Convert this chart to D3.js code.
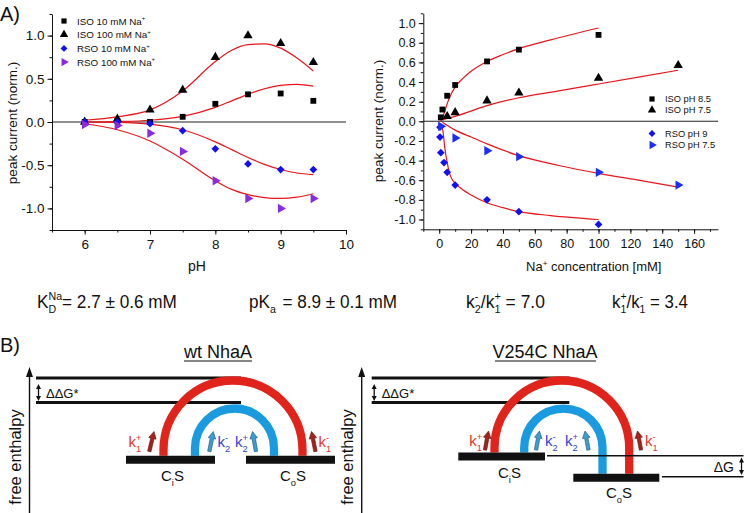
<!DOCTYPE html>
<html><head><meta charset="utf-8">
<script src="https://cdn.jsdelivr.net/npm/d3@7"></script>
<style>
html,body{margin:0;padding:0;background:#fff;}
svg{display:block;font-family:"Liberation Sans",Arial,sans-serif;}
</style></head><body>
<svg id="c" width="745" height="513"></svg>
<script>
// ---------- DATA: panel A left (pH dependence) ----------
const pHValues   = [6, 6.5, 7, 7.5, 8, 8.5, 9, 9.5];
const iso10pH    = [0.0, 0.01, 0.0, 0.06, 0.21, 0.32, 0.33, 0.245];
const iso100pH   = [0.0, 0.035, 0.14, 0.37, 0.75, 1.0, 0.91, 0.69];
const rso10pH    = [0.0, 0.0, -0.02, -0.10, -0.31, -0.485, -0.55, -0.55];
const rso100pH   = [-0.03, -0.04, -0.13, -0.34, -0.68, -0.885, -1.0, -0.885];
const pHFitX     = [6, 6.5, 7, 7.5, 8, 8.25, 8.5, 8.75, 9, 9.25, 9.5];
const fitIso10pH = [0.0, 0.005, 0.02, 0.065, 0.17, 0.245, 0.32, 0.385, 0.425, 0.435, 0.415];
const fitIso100pH= [0.02, 0.06, 0.14, 0.36, 0.70, 0.83, 0.895, 0.905, 0.855, 0.74, 0.59];
const fitRso10pH = [0.0, -0.005, -0.025, -0.09, -0.23, -0.32, -0.41, -0.49, -0.55, -0.59, -0.61];
const fitRso100pH= [-0.02, -0.09, -0.22, -0.43, -0.68, -0.78, -0.84, -0.875, -0.885, -0.87, -0.83];
const pHTicks    = [6, 7, 8, 9, 10];
const pHYTicks   = [-1.0, -0.5, 0.0, 0.5, 1.0];

// ---------- DATA: panel A right (Na+ dependence) ----------
const isoNa85X = [1, 2, 5, 10, 30, 50, 100];
const isoNa85Y = [0.04, 0.12, 0.26, 0.37, 0.61, 0.73, 0.88];
const isoNa75X = [5, 10, 30, 50, 100, 150];
const isoNa75Y = [0.05, 0.09, 0.21, 0.29, 0.44, 0.57];
const rsoNa9X  = [0.5, 0.5, 1, 3, 5, 10, 30, 50, 100];
const rsoNa9Y  = [-0.06, -0.16, -0.32, -0.42, -0.52, -0.65, -0.80, -0.92, -1.05];
const rsoNa75X = [1, 10, 30, 50, 100, 150];
const rsoNa75Y = [-0.05, -0.17, -0.30, -0.36, -0.52, -0.65];
const fitIso85X = [1, 1.5, 3, 5, 7, 10, 15, 20, 30, 40, 50, 70, 100];
const fitIso85Y = [0.0, 0.02, 0.08, 0.18, 0.26, 0.35, 0.44, 0.51, 0.61, 0.68, 0.74, 0.83, 0.95];
const fitIso75X = [3, 10, 30, 50, 75, 100, 125, 150];
const fitIso75Y = [0.02, 0.05, 0.16, 0.24, 0.31, 0.38, 0.45, 0.52];
const fitRso75X = [2, 10, 20, 30, 50, 75, 100, 125, 150];
const fitRso75Y = [-0.01, -0.09, -0.16, -0.23, -0.35, -0.45, -0.53, -0.60, -0.67];
const fitRso9X  = [1.5, 2.5, 3.5, 5, 6.5, 8, 10, 15, 20, 30, 40, 50, 70, 100];
const fitRso9Y  = [-0.03, -0.12, -0.27, -0.42, -0.53, -0.59, -0.63, -0.70, -0.75, -0.83, -0.88, -0.92, -0.96, -1.0];
const naTicks   = [0, 20, 40, 60, 80, 100, 120, 140, 160];
const naYTicks  = [-1.0, -0.8, -0.6, -0.4, -0.2, 0.0, 0.2, 0.4, 0.6, 0.8, 1.0];

const svg = d3.select("#c");
const FONT = '"Liberation Sans",Arial,sans-serif';
const FITRED = "#e8161b";

// ---------- helpers ----------
function sym(g, type, x, y, size, color, rot) {
  g.append("path").attr("d", d3.symbol().type(type).size(size)())
   .attr("transform", `translate(${x},${y})` + (rot ? ` rotate(${rot})` : ""))
   .attr("fill", color);
}
function richText(g, x, y, pieces, size, color, targetW) {
  const grp = g.append("g");
  let cur = 0;
  pieces.forEach(p => {
    if (typeof p === "string") {
      const t = grp.append("text").attr("x", cur).attr("y", 0).attr("font-size", size)
        .attr("fill", color).style("white-space", "pre").text(p);
      cur += t.node().getComputedTextLength();
    } else {
      let w = 0;
      if (p.sup) { const t = grp.append("text").attr("x", cur).attr("y", -size * 0.42)
        .attr("font-size", size * 0.62).attr("fill", color).text(p.sup);
        w = Math.max(w, t.node().getComputedTextLength()); }
      if (p.sub) { const t = grp.append("text").attr("x", cur).attr("y", size * 0.3)
        .attr("font-size", size * 0.62).attr("fill", color).text(p.sub);
        w = Math.max(w, t.node().getComputedTextLength()); }
      cur += w + (p.gap || 0);
    }
  });
  const sx = targetW ? targetW / cur : 1;
  grp.attr("transform", `translate(${x},${y}) scale(${sx},1)`);
  return grp;
}
function axesFor(g, x, y, xMajor, xMinor, yMajor, yMinor, xFmt, yFmt, fs) {
  const [x0] = x.range(), [y0] = y.range();
  g.append("g").attr("transform", `translate(0,${y0})`)
   .call(d3.axisBottom(x).tickValues(xMinor).tickSize(2.5).tickFormat(""))
   .call(a => a.select(".domain").remove());
  g.append("g").attr("transform", `translate(0,${y0})`)
   .call(d3.axisBottom(x).tickValues(xMajor).tickSize(4.5).tickSizeOuter(0).tickPadding(5).tickFormat(xFmt))
   .call(a => a.selectAll("text").attr("font-size", fs).attr("font-family", FONT).attr("fill", "#111"));
  g.append("g").attr("transform", `translate(${x0},0)`)
   .call(d3.axisLeft(y).tickValues(yMinor).tickSize(2.5).tickFormat(""))
   .call(a => a.select(".domain").remove());
  g.append("g").attr("transform", `translate(${x0},0)`)
   .call(d3.axisLeft(y).tickValues(yMajor).tickSize(4.5).tickSizeOuter(0).tickPadding(3).tickFormat(yFmt))
   .call(a => a.selectAll("text").attr("font-size", fs).attr("font-family", FONT).attr("fill", "#111"));
  g.selectAll(".domain, .tick line").attr("stroke", "#111").attr("stroke-width", 1);
}
const range = (a, b, s) => d3.range(Math.round((b - a) / s) + 1).map(i => +(a + i * s).toFixed(4));

// ---------- Panel A left ----------
const gL = svg.append("g");
const xL = d3.scaleLinear([5.5, 10], [52, 346]);
const yL = d3.scaleLinear([-1.25, 1.25], [230, 14]);
axesFor(gL, xL, yL, pHTicks, range(5.5, 10, 0.5), pHYTicks, range(-1.25, 1.25, 0.25),
  d => d, d => d.toFixed(1), 13.5);
gL.append("line").attr("x1", xL(5.5)).attr("x2", xL(10)).attr("y1", yL(0)).attr("y2", yL(0))
  .attr("stroke", "#222").attr("stroke-width", 1.1);
const lineL = d3.line().x(d => xL(d[0])).y(d => yL(d[1])).curve(d3.curveMonotoneX);
[fitIso10pH, fitIso100pH, fitRso10pH, fitRso100pH].forEach(arr => {
  gL.append("path").attr("d", lineL(pHFitX.map((v, i) => [v, arr[i]])))
    .attr("fill", "none").attr("stroke", FITRED).attr("stroke-width", 1.2);
});
const leftSeries = [
  {vals: iso10pH, type: d3.symbolSquare, size: 34, color: "#000", rot: 0, label: "ISO 10 mM Na"},
  {vals: iso100pH, type: d3.symbolTriangle, size: 38, color: "#000", rot: 0, label: "ISO 100 mM Na"},
  {vals: rso10pH, type: d3.symbolSquare, size: 30, color: "#1010f0", rot: 45, label: "RSO 10 mM Na"},
  {vals: rso100pH, type: d3.symbolTriangle, size: 38, color: "#8a2be2", rot: 90, label: "RSO 100 mM Na"}
];
leftSeries.forEach((s, k) => {
  s.vals.forEach((v, i) => sym(gL, s.type, xL(pHValues[i]), yL(v), s.size, s.color, s.rot));
  const ly = 21 + k * 13.7;
  sym(gL, s.type, 64, ly, s.size * 0.8, s.color, s.rot);
  richText(gL, 77, ly + 3.5, [s.label, {sup: "+"}], 9.8, "#111");
});
gL.append("text").attr("x", 197).attr("y", 271).attr("text-anchor", "middle")
  .attr("font-size", 14).attr("fill", "#111").text("pH");
gL.append("text").attr("transform", "translate(17,123) rotate(-90)").attr("text-anchor", "middle")
  .attr("font-size", 13.5).attr("fill", "#111").text("peak current (norm.)");

// ---------- Panel A right ----------
const gR = svg.append("g");
const xR = d3.scaleLinear([-10, 175], [423.3, 718]);
const yR = d3.scaleLinear([-1.1, 1.1], [229.3, 13.3]);
axesFor(gR, xR, yR, naTicks, range(-10, 170, 10), naYTicks, range(-1.1, 1.1, 0.1),
  d => d, d => d.toFixed(1), 12.5);
gR.append("line").attr("x1", xR(-10)).attr("x2", xR(175)).attr("y1", yR(0)).attr("y2", yR(0))
  .attr("stroke", "#222").attr("stroke-width", 1.1);
const lineR = d3.line().x(d => xR(d[0])).y(d => yR(d[1])).curve(d3.curveMonotoneX);
[[fitIso85X, fitIso85Y], [fitIso75X, fitIso75Y], [fitRso75X, fitRso75Y], [fitRso9X, fitRso9Y]].forEach(([xs, ys]) => {
  gR.append("path").attr("d", lineR(xs.map((v, i) => [v, ys[i]])))
    .attr("fill", "none").attr("stroke", FITRED).attr("stroke-width", 1.2);
});
const rightSeries = [
  {xs: isoNa85X, ys: isoNa85Y, type: d3.symbolSquare, size: 34, color: "#000", rot: 0, label: "ISO pH 8.5", ly: 99},
  {xs: isoNa75X, ys: isoNa75Y, type: d3.symbolTriangle, size: 38, color: "#000", rot: 0, label: "ISO pH 7.5", ly: 110},
  {xs: rsoNa9X, ys: rsoNa9Y, type: d3.symbolSquare, size: 30, color: "#1010f0", rot: 45, label: "RSO pH 9", ly: 133.5},
  {xs: rsoNa75X, ys: rsoNa75Y, type: d3.symbolTriangle, size: 38, color: "#1a2ef5", rot: 90, label: "RSO pH 7.5", ly: 145}
];
rightSeries.forEach(s => {
  s.xs.forEach((v, i) => sym(gR, s.type, xR(v), yR(s.ys[i]), s.size, s.color, s.rot));
  sym(gR, s.type, 652, s.ly, s.size * 0.8, s.color, s.rot);
  gR.append("text").attr("x", 665).attr("y", s.ly + 3.3).attr("font-size", 9.3).attr("fill", "#111").text(s.label);
});
richText(gR, 526, 271, ["Na", {sup: "+"}, " concentration [mM]"], 13, "#111");
gR.append("text").attr("transform", "translate(383,121) rotate(-90)").attr("text-anchor", "middle")
  .attr("font-size", 13.5).attr("fill", "#111").text("peak current (norm.)");

// panel letters
svg.append("text").attr("x", 0).attr("y", 21).attr("font-size", 20).attr("fill", "#111").text("A)");
svg.append("text").attr("x", 0).attr("y", 352).attr("font-size", 20).attr("fill", "#111").text("B)");

// ---------- constants row ----------
const rowY = 307.5;
richText(svg, 37, rowY, ["K", {sup: "Na", sub: "D"}, "= 2.7 ± 0.6 mM"], 18, "#111", 140);
richText(svg, 249, rowY, ["pK", {sub: "a", gap: 2}, " = 8.9 ± 0.1 mM"], 18, "#111", 148);
richText(svg, 466, rowY, ["k", {sup: "-", sub: "2"}, "/k", {sup: "+", sub: "1"}, " = 7.0"], 18, "#111", 79);
richText(svg, 612, rowY, ["k", {sup: "+", sub: "1"}, "/k", {sup: "-", sub: "1"}, " = 3.4"], 18, "#111", 76);

// ---------- Panel B schemes ----------
const K1COL = "#e8302a", K2COL = "#2f3fd8";
function blockArrow(g, x0, y0, x1, y1, fill, stroke) {
  const dx = x1 - x0, dy = y1 - y0, L = Math.hypot(dx, dy);
  const ux = dx / L, uy = dy / L, px = -uy, py = ux;
  const hl = 7, hw = 3.8, sw = 1.7;
  const bx = x1 - ux * hl, by = y1 - uy * hl;
  const pts = [[x0 + px * sw, y0 + py * sw], [bx + px * sw, by + py * sw], [bx + px * hw, by + py * hw],
    [x1, y1], [bx - px * hw, by - py * hw], [bx - px * sw, by - py * sw], [x0 - px * sw, y0 - py * sw]];
  g.append("polygon").attr("points", pts.map(p => p.join(",")).join(" "))
    .attr("fill", fill).attr("stroke", stroke).attr("stroke-width", 0.6);
}
function kLabel(g, x, y, sup, sub, color) {
  richText(g, x, y, ["k", {sup: sup, sub: sub}], 15, color);
}
function vArrowAxis(g, x, yTop, yBot) {
  g.append("line").attr("x1", x).attr("x2", x).attr("y1", yTop + 6).attr("y2", yBot).attr("stroke", "#111").attr("stroke-width", 1.4);
  g.append("path").attr("d", `M${x},${yTop} L${x - 3.5},${yTop + 10} L${x + 3.5},${yTop + 10} Z`).attr("fill", "#111");
}
function dblArrow(g, x, y0, y1) {
  g.append("line").attr("x1", x).attr("x2", x).attr("y1", y0 + 3).attr("y2", y1 - 3).attr("stroke", "#111").attr("stroke-width", 1.3);
  g.append("path").attr("d", `M${x},${y0} L${x - 2.5},${y0 + 5} L${x + 2.5},${y0 + 5} Z`).attr("fill", "#111");
  g.append("path").attr("d", `M${x},${y1} L${x - 2.5},${y1 - 5} L${x + 2.5},${y1 - 5} Z`).attr("fill", "#111");
}
function archPath(xl, xr, topY, yEndL, yEndR) {
  const r = (xr - xl) / 2, cy = topY + r;
  return `M${xl},${yEndL} L${xl},${cy} A${r},${r} 0 0 1 ${xr},${cy} L${xr},${yEndR}`;
}
function scheme(g, o) {
  g.append("text").attr("x", o.titleX).attr("y", 358).attr("text-anchor", "middle")
    .attr("font-size", 18).attr("fill", "#111").text(o.title);
  vArrowAxis(g, o.axisX, 367, 513);
  g.append("text").attr("transform", `translate(${o.axisX - 9},457) rotate(-90)`).attr("text-anchor", "middle")
    .attr("font-size", 16.5).attr("fill", "#111").text("free enthalpy");
  g.append("line").attr("x1", o.lineX0).attr("x2", o.lineX1).attr("y1", 378).attr("y2", 378).attr("stroke", "#111").attr("stroke-width", 3);
  g.append("line").attr("x1", o.lineX0).attr("x2", o.lineX1).attr("y1", 402.5).attr("y2", 402.5).attr("stroke", "#111").attr("stroke-width", 3);
  dblArrow(g, o.lineX0 + 2.5, 384, 401);
  g.append("text").attr("x", o.lineX0 + 10).attr("y", 397.5).attr("font-size", 13).attr("fill", "#111").text("ΔΔG*");
  g.append("path").attr("d", archPath(o.redL, o.redR, 380.5, o.yL - 4, o.yR - 4))
    .attr("fill", "none").attr("stroke", "#e0241c").attr("stroke-width", 8.3);
  g.append("path").attr("d", archPath(o.blueL, o.blueR, 408.5, o.yL - 4, o.yR - 4))
    .attr("fill", "none").attr("stroke", "#1a9be0").attr("stroke-width", 8.3);
  g.append("line").attr("x1", o.barL[0]).attr("x2", o.barL[1]).attr("y1", o.yL).attr("y2", o.yL).attr("stroke", "#111").attr("stroke-width", 8);
  g.append("line").attr("x1", o.barR[0]).attr("x2", o.barR[1]).attr("y1", o.yR).attr("y2", o.yR).attr("stroke", "#111").attr("stroke-width", 8);
  richText(g, o.ciX, o.ciY, ["C", {sub: "i"}, "S"], 15, "#111");
  richText(g, o.coX, o.coY, ["C", {sub: "o"}, "S"], 15, "#111");
  o.arrows.forEach(a => blockArrow(g, a[0], a[1], a[2], a[3], a[4] === "r" ? "#a8221b" : "#3a9fd2", a[4] === "r" ? "#5a0c08" : "#1b4e6e"));
  o.labels.forEach(l => kLabel(g, l[0], l[1], l[2], l[3], l[4]));
}
const gB = svg.append("g");
scheme(gB, {
  title: "wt NhaA", titleX: 218, axisX: 29.5, lineX0: 36, lineX1: 241,
  redL: 163.5, redR: 302.5, blueL: 195, blueR: 274,
  yL: 459.7, yR: 459.7, barL: [126, 215], barR: [246, 335],
  ciX: 161, ciY: 481, coX: 280, coY: 481,
  arrows: [[149.3, 451.5, 154, 431.5, "r"], [209.3, 451.5, 213.3, 431.5, "b"], [256, 451.5, 252.5, 431.5, "b"], [315.5, 451.5, 311.5, 431.5, "r"]],
  labels: [[128.5, 447, "+", "1", K1COL], [217.5, 447, "-", "2", K2COL], [235, 447, "+", "2", K2COL], [318.5, 447, "-", "1", K1COL]]
});
gB.append("line").attr("x1", 184).attr("x2", 252).attr("y1", 361).attr("y2", 361).attr("stroke", "#111").attr("stroke-width", 1.1);
const gB2 = svg.append("g");
scheme(gB2, {
  title: "V254C NhaA", titleX: 545, axisX: 361.7, lineX0: 371.7, lineX1: 569.3,
  redL: 494.5, redR: 629.2, blueL: 524.2, blueR: 602.5,
  yL: 456.5, yR: 477.8, barL: [458.3, 545], barR: [573.3, 659.3],
  ciX: 498, ciY: 478, coX: 606, coY: 498,
  arrows: [[485, 450, 488.5, 431, "r"], [536, 450, 539.5, 431, "b"], [588.5, 450, 585, 431, "b"], [641, 450, 637.5, 431, "r"]],
  labels: [[469.3, 446, "+", "1", K1COL], [545, 446, "-", "2", K2COL], [565, 446, "+", "2", K2COL], [645, 446, "-", "1", K1COL]]
});
gB2.append("line").attr("x1", 495).attr("x2", 596).attr("y1", 361).attr("y2", 361).attr("stroke", "#111").attr("stroke-width", 1.1);
gB2.append("line").attr("x1", 547).attr("x2", 743.5).attr("y1", 455.7).attr("y2", 455.7).attr("stroke", "#111").attr("stroke-width", 1.6);
gB2.append("line").attr("x1", 662).attr("x2", 743.5).attr("y1", 476.7).attr("y2", 476.7).attr("stroke", "#111").attr("stroke-width", 1.6);
dblArrow(gB2, 741.5, 457.5, 475);
gB2.append("text").attr("x", 734).attr("y", 472).attr("text-anchor", "end").attr("font-size", 14).attr("fill", "#111").text("ΔG");
</script>
</body></html>
